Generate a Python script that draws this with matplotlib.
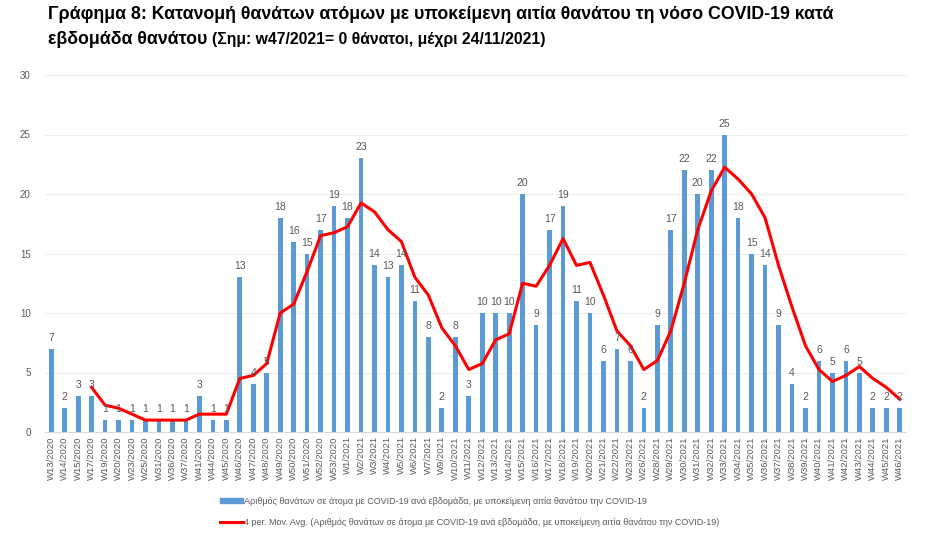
import numpy as np
import pandas as pd
import matplotlib
matplotlib.use("Agg")
import matplotlib.pyplot as plt
from matplotlib.patches import Patch
from matplotlib.lines import Line2D

#=========================================================================================
weeks_2020 = ['W13', 'W14', 'W15', 'W17', 'W19', 'W20', 'W23', 'W25', 'W31', 'W36', 'W37',
              'W41', 'W44', 'W45', 'W46', 'W47', 'W48', 'W49', 'W50', 'W51', 'W52', 'W53']
weeks_2021 = ['W1', 'W2', 'W3', 'W4', 'W5', 'W6', 'W7', 'W9', 'W10', 'W11', 'W12', 'W13',
              'W14', 'W15', 'W16', 'W17', 'W18', 'W19', 'W20', 'W21', 'W22', 'W23', 'W26',
              'W28', 'W29', 'W30', 'W31', 'W32', 'W33', 'W34', 'W35', 'W36', 'W37', 'W38',
              'W39', 'W40', 'W41', 'W42', 'W43', 'W44', 'W45', 'W46']
labels = [w + '/2020' for w in weeks_2020] + [w + '/2021' for w in weeks_2021]

deaths = [7, 2, 3, 3, 1, 1, 1, 1, 1, 1, 1, 3, 1, 1, 13, 4, 5, 18, 16, 15, 17, 19,
          18, 23, 14, 13, 14, 11, 8, 2, 8, 3, 10, 10, 10, 20, 9, 17, 19, 11, 10, 6,
          7, 6, 2, 9, 17, 22, 20, 22, 25, 18, 15, 14, 9, 4, 2, 6, 5, 6, 5, 2, 2, 2]

title_1 = 'Γράφημα 8: Κατανομή θανάτων ατόμων με υποκείμενη αιτία θανάτου τη νόσο COVID-19 κατά'
title_2 = 'εβδομάδα θανάτου '
title_note = '(Σημ: w47/2021= 0 θάνατοι, μέχρι 24/11/2021)'
bar_label = 'Αριθμός θανάτων σε άτομα με COVID-19 ανά εβδομάδα, με υποκείμενη αιτία θανάτου την COVID-19'
line_label = '4 per. Mov. Avg. (' + bar_label + ')'

#=========================================================================================
serie = pd.Series(deaths, index=labels)
mov_avg = serie.rolling(4).mean()

bar_color = '#5B9BD5'
text_color = '#595959'
plt.rcParams['font.family'] = ['Liberation Sans Narrow', 'Liberation Sans', 'DejaVu Sans']

fig = plt.figure(figsize=(9.31, 5.57), dpi=100)
ax = fig.add_axes([44.5 / 931, 1 - 432 / 557, 862 / 931, 357 / 557])

x = np.arange(len(labels))
ax.bar(x, serie.values, width=0.35, color=bar_color, zorder=2)
ax.plot(x, mov_avg.values, color='#FF0000', linewidth=2.2, zorder=3)

for xi, v in zip(x, serie.values):
    ax.text(xi, v + 0.5, str(v), ha='center', va='bottom', fontsize=7.5, color=text_color, zorder=4)

ax.set_xlim(-0.5, len(labels) - 0.5)
ax.set_ylim(0, 30)
ax.set_yticks(range(0, 31, 5))
ax.grid(axis='y', color='#EDEDED', linewidth=0.8, zorder=0)
ax.set_axisbelow(True)

ax.set_xticks(x)
ax.set_xticklabels(labels, rotation=90, fontsize=6.8, color=text_color)
ax.tick_params(axis='y', labelsize=7, colors=text_color, length=0, pad=10)
ax.tick_params(axis='x', length=0, pad=3)
for side in ['top', 'right', 'left']:
    ax.spines[side].set_visible(False)
ax.spines['bottom'].set_color('#D9D9D9')

#----------------------------------------------
fig.text(48 / 931, 1 - 6 / 557, title_1, fontsize=12.8, fontweight='bold', va='top', ha='left')
t1 = fig.text(48 / 931, 1 - 31 / 557, title_2, fontsize=12.8, fontweight='bold', va='top', ha='left')
fig.canvas.draw()
bb = t1.get_window_extent()
fig.text(bb.x1 / 931, 1 - 32 / 557, title_note, fontsize=11.3, fontweight='bold', va='top', ha='left')

handles = [Patch(color=bar_color), Line2D([0], [0], color='#FF0000', linewidth=2.2)]
leg = fig.legend(handles, [bar_label, line_label], loc='upper left', bbox_to_anchor=(220 / 931, 1 - 497 / 557),
                 frameon=False, fontsize=6.5, handlelength=2.6, handletextpad=0.1, labelspacing=1.3,
                 handleheight=0.5, borderaxespad=0, borderpad=0)
for t in leg.get_texts():
    t.set_color(text_color)

fig.savefig('out.png', dpi=100)
